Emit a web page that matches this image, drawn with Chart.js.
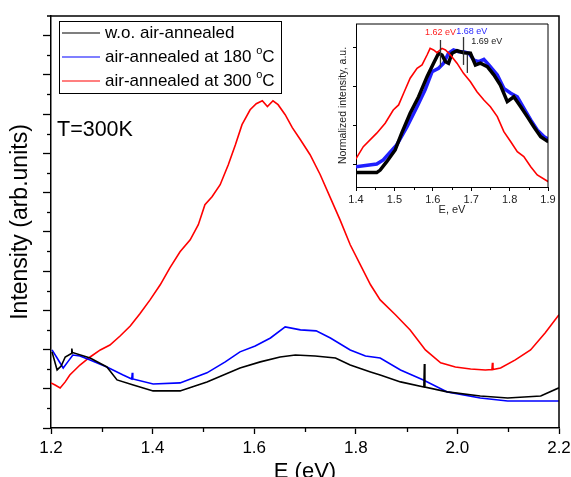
<!DOCTYPE html>
<html>
<head>
<meta charset="utf-8">
<script src="https://cdn.jsdelivr.net/npm/chart.js@4.4.1/dist/chart.umd.min.js"></script>
<style>
  html, body { margin: 0; padding: 0; background: #fff; }
  #wrap { position: relative; width: 571px; height: 477px; overflow: hidden; }
  #main { position: absolute; left: 0; top: 0; }
  #inset { position: absolute; left: 330px; top: 18px; }
</style>
</head>
<body>
<div id="wrap">
  <canvas id="main" width="571" height="477"></canvas>
  <canvas id="inset" width="235" height="200"></canvas>
</div>
<script>
// --- main panel: PL spectra ---
const blackE = [1.202, 1.212, 1.220, 1.228, 1.240, 1.241, 1.242, 1.277, 1.310, 1.330, 1.362, 1.401, 1.454, 1.507, 1.572, 1.612, 1.651, 1.681, 1.720, 1.760, 1.789, 1.829, 1.848, 1.888, 1.934, 1.935, 1.936, 1.980, 2.045, 2.099, 2.164, 2.200];
const blackI = [3.88, 2.96, 3.16, 3.62, 3.80, 4.05, 3.85, 3.57, 3.11, 2.45, 2.19, 1.89, 1.89, 2.35, 3.06, 3.37, 3.62, 3.72, 3.67, 3.57, 3.21, 2.86, 2.70, 2.35, 2.09, 3.26, 2.09, 1.84, 1.63, 1.53, 1.63, 2.05];

const blueE = [1.202, 1.212, 1.224, 1.233, 1.243, 1.257, 1.277, 1.310, 1.342, 1.359, 1.360, 1.361, 1.401, 1.454, 1.507, 1.543, 1.572, 1.602, 1.632, 1.661, 1.691, 1.722, 1.750, 1.789, 1.819, 1.848, 1.888, 1.933, 1.980, 2.045, 2.099, 2.200];
const blueI = [3.98, 3.57, 3.06, 3.37, 3.72, 3.67, 3.47, 3.11, 2.70, 2.50, 2.81, 2.50, 2.24, 2.30, 2.81, 3.37, 3.88, 4.18, 4.59, 5.15, 5.00, 4.95, 4.59, 3.98, 3.67, 3.57, 2.96, 2.45, 1.84, 1.53, 1.38, 1.38];

const redE = [1.200, 1.208, 1.218, 1.228, 1.237, 1.257, 1.277, 1.297, 1.316, 1.336, 1.356, 1.375, 1.395, 1.415, 1.434, 1.454, 1.474, 1.490, 1.503, 1.517, 1.533, 1.549, 1.563, 1.576, 1.592, 1.604, 1.616, 1.626, 1.637, 1.647, 1.661, 1.675, 1.691, 1.710, 1.730, 1.750, 1.769, 1.789, 1.809, 1.829, 1.848, 1.878, 1.907, 1.937, 1.967, 1.996, 2.026, 2.055, 2.068, 2.069, 2.070, 2.085, 2.114, 2.144, 2.173, 2.200];
const redI = [2.30, 2.19, 2.04, 2.35, 2.70, 3.21, 3.62, 3.98, 4.23, 4.69, 5.20, 5.82, 6.53, 7.30, 8.16, 8.98, 9.59, 10.36, 11.38, 11.79, 12.40, 13.42, 14.44, 15.46, 16.22, 16.53, 16.68, 16.38, 16.68, 16.48, 15.97, 15.31, 14.69, 13.93, 12.91, 11.73, 10.61, 9.34, 8.32, 7.30, 6.53, 5.77, 5.00, 3.98, 3.32, 3.11, 3.01, 2.96, 2.98, 3.32, 2.98, 3.06, 3.47, 3.98, 4.85, 5.77];

const seriesLabels = ['w.o. air-annealed', 'air-annealed at 180 °C', 'air-annealed at 300 °C'];

// ticks of the main panel (y has no numbers)
const xMajor = [1.2, 1.4, 1.6, 1.8, 2.0, 2.2];
const xMinor = [1.3, 1.5, 1.7, 1.9, 2.1];
const yMajor = [0, 2, 4, 6, 8, 10, 12, 14, 16, 18, 20];
const yMinor = [1, 3, 5, 7, 9, 11, 13, 15, 17, 19];

// --- inset: normalized spectra ---
const insBlackE = [1.399, 1.454, 1.463, 1.480, 1.502, 1.519, 1.541, 1.563, 1.585, 1.602, 1.615, 1.624, 1.633, 1.641, 1.650, 1.663, 1.680, 1.698, 1.711, 1.724, 1.742, 1.759, 1.776, 1.794, 1.811, 1.829, 1.846, 1.863, 1.881, 1.901];
const insBlackI = [0.361, 0.361, 0.374, 0.417, 0.477, 0.563, 0.665, 0.750, 0.853, 0.922, 0.973, 0.964, 0.930, 0.922, 0.973, 0.986, 0.976, 0.973, 0.913, 0.922, 0.904, 0.862, 0.810, 0.725, 0.750, 0.699, 0.648, 0.596, 0.545, 0.519];

const insBlueE = [1.399, 1.454, 1.471, 1.506, 1.533, 1.559, 1.580, 1.598, 1.615, 1.628, 1.641, 1.654, 1.667, 1.680, 1.694, 1.707, 1.720, 1.733, 1.746, 1.768, 1.785, 1.803, 1.820, 1.837, 1.855, 1.872, 1.890, 1.901];
const insBlueI = [0.391, 0.405, 0.426, 0.503, 0.596, 0.699, 0.785, 0.878, 0.896, 0.922, 0.973, 0.990, 0.981, 0.981, 0.973, 0.938, 0.930, 0.942, 0.913, 0.862, 0.793, 0.768, 0.750, 0.691, 0.631, 0.579, 0.545, 0.532];

const insRedE = [1.399, 1.419, 1.454, 1.476, 1.497, 1.511, 1.524, 1.541, 1.559, 1.572, 1.585, 1.593, 1.602, 1.611, 1.624, 1.633, 1.646, 1.663, 1.680, 1.698, 1.715, 1.733, 1.750, 1.768, 1.785, 1.803, 1.820, 1.837, 1.855, 1.872, 1.901];
const insRedI = [0.429, 0.494, 0.563, 0.614, 0.682, 0.708, 0.768, 0.845, 0.896, 0.913, 0.964, 0.998, 0.990, 0.976, 0.998, 0.990, 0.964, 0.922, 0.870, 0.827, 0.776, 0.733, 0.699, 0.648, 0.571, 0.519, 0.468, 0.443, 0.391, 0.349, 0.314];

const insXMajor = [1.4, 1.5, 1.6, 1.7, 1.8, 1.9];
const insXMinor = [1.45, 1.55, 1.65, 1.75, 1.85];
const insYMajor = [0.4, 0.6, 0.8, 1.0];

// peak markers in the inset
const peakE = [1.62, 1.68, 1.69];
const peakLow = [0.903, 0.913, 0.872];
const peakHigh = [1.041, 1.056, 0.964];
const peakText = ['1.62 eV', '1.68 eV', '1.69 eV'];
const peakTextE = [1.620, 1.661, 1.700];
const peakTextI = [1.077, 1.087, 1.031];

const FONT = "'Liberation Sans', Arial, sans-serif";

const toPoints = (xs, ys) => xs.map((x, i) => ({ x: x, y: ys[i] }));

// Рисуем надпись, где "°" становится маленьким верхним "o"
const drawDegreeText = (ctx, text, x, y, size) => {
  const parts = text.split('°');
  ctx.font = size + 'px ' + FONT;
  ctx.textBaseline = 'middle';
  ctx.textAlign = 'left';
  ctx.fillText(parts[0], x, y);
  if (parts.length < 2) return;
  let cx = x + ctx.measureText(parts[0]).width;
  ctx.font = Math.round(size * 0.62) + 'px ' + FONT;
  ctx.fillText('o', cx, y - size * 0.33);
  cx += ctx.measureText('o').width;
  ctx.font = size + 'px ' + FONT;
  ctx.fillText(parts[1], cx, y);
};

// short ticks between labelled ones
const minorTicks = {
  id: 'minorTicks',
  afterDraw(chart, args, o) {
    const ctx = chart.ctx;
    const area = chart.chartArea;
    ctx.save();
    ctx.strokeStyle = '#000';
    ctx.lineWidth = o.width;
    (o.x || []).forEach(v => {
      const px = Math.round(chart.scales.x.getPixelForValue(v)) + 0.5;
      ctx.beginPath();
      ctx.moveTo(px, area.bottom);
      ctx.lineTo(px, area.bottom + o.length);
      ctx.stroke();
    });
    (o.y || []).forEach(v => {
      const py = Math.round(chart.scales.y.getPixelForValue(v)) + 0.5;
      ctx.beginPath();
      ctx.moveTo(area.left, py);
      ctx.lineTo(area.left - o.length, py);
      ctx.stroke();
    });
    ctx.restore();
  }
};

// top and right edges of the plot box
const frame = {
  id: 'frame',
  afterDraw(chart, args, o) {
    const ctx = chart.ctx;
    const a = chart.chartArea;
    ctx.save();
    ctx.strokeStyle = '#000';
    ctx.lineWidth = o.width;
    ctx.beginPath();
    ctx.moveTo(a.left - (o.extend || 0), a.top);
    ctx.lineTo(a.right, a.top);
    ctx.lineTo(a.right, a.bottom);
    ctx.stroke();
    ctx.restore();
  }
};

const boxLegend = {
  id: 'boxLegend',
  afterDraw(chart, args, o) {
    if (!o.show) return;
    const ctx = chart.ctx;
    ctx.save();
    ctx.strokeStyle = '#000';
    ctx.lineWidth = 1;
    ctx.strokeRect(o.left + 0.5, o.top + 0.5, o.width, o.height);
    chart.data.datasets.forEach((ds, i) => {
      const y = o.top + o.firstRow + i * o.rowGap;
      ctx.strokeStyle = ds.borderColor;
      ctx.lineWidth = 1.2;
      ctx.beginPath();
      ctx.moveTo(o.left + 3, y);
      ctx.lineTo(o.left + 41, y);
      ctx.stroke();
      ctx.fillStyle = '#000';
      drawDegreeText(ctx, ds.label, o.left + 46, y, o.fontSize);
    });
    ctx.restore();
  }
};

const freeText = {
  id: 'freeText',
  afterDraw(chart, args, o) {
    const ctx = chart.ctx;
    ctx.save();
    (o.items || []).forEach(t => {
      ctx.fillStyle = t.color || '#000';
      ctx.font = t.size + 'px ' + FONT;
      ctx.textAlign = t.align || 'left';
      ctx.textBaseline = 'middle';
      ctx.fillText(t.text, t.x, t.y);
    });
    ctx.restore();
  }
};

// inset peak markers, placed through the inset scales
const peakMarks = {
  id: 'peakMarks',
  afterDatasetsDraw(chart, args, o) {
    if (!o.show) return;
    const ctx = chart.ctx;
    const sx = chart.scales.x, sy = chart.scales.y;
    ctx.save();
    peakE.forEach((e, i) => {
      const px = sx.getPixelForValue(e);
      ctx.strokeStyle = '#333';
      ctx.lineWidth = 1.3;
      ctx.beginPath();
      ctx.moveTo(px, sy.getPixelForValue(peakLow[i]));
      ctx.lineTo(px, sy.getPixelForValue(peakHigh[i]));
      ctx.stroke();
    });
    ctx.font = '9px ' + FONT;
    ctx.textBaseline = 'middle';
    const cols = ['#ff2020', '#2a2aff', '#222'];
    const aligns = ['center', 'left', 'left'];
    peakText.forEach((t, i) => {
      ctx.fillStyle = cols[i];
      ctx.textAlign = aligns[i];
      ctx.fillText(t, sx.getPixelForValue(peakTextE[i]), sy.getPixelForValue(peakTextI[i]));
    });
    ctx.restore();
  }
};

Chart.register(minorTicks, frame, boxLegend, freeText, peakMarks);

const setTicks = values => scale => { scale.ticks = values.map(v => ({ value: v })); };

const lineSet = (label, xs, ys, color, width) => ({
  label: label,
  data: toPoints(xs, ys),
  borderColor: color,
  backgroundColor: color,
  borderWidth: width,
  pointRadius: 0,
  tension: 0,
  fill: false
});

// ---------- main chart ----------
new Chart(document.getElementById('main').getContext('2d'), {
  type: 'line',
  data: {
    datasets: [
      lineSet(seriesLabels[0], blackE, blackI, '#000000', 1.6),
      lineSet(seriesLabels[1], blueE, blueI, '#0000ff', 1.6),
      lineSet(seriesLabels[2], redE, redI, '#ff0000', 1.6)
    ]
  },
  options: {
    responsive: false,
    animation: false,
    events: [],
    layout: { padding: { left: 0, right: 12, top: 16, bottom: 0 } },
    plugins: {
      legend: { display: false },
      tooltip: { enabled: false },
      minorTicks: { x: xMinor, y: yMinor, length: 4, width: 1.3 },
      frame: { width: 1.5, extend: 4 },
      boxLegend: { show: true, left: 59, top: 21, width: 222, height: 72, firstRow: 12, rowGap: 24, fontSize: 17 },
      freeText: { items: [{ text: 'T=300K', x: 57, y: 130, size: 21.5 }] },
      peakMarks: { show: false }
    },
    scales: {
      x: {
        type: 'linear',
        min: 1.2,
        max: 2.2,
        afterBuildTicks: setTicks(xMajor),
        afterFit: s => { s.height = 49; s.paddingLeft = 0; s.paddingRight = 0; },
        ticks: {
          font: { family: FONT, size: 17 },
          color: '#000',
          padding: 4,
          maxRotation: 0,
          autoSkip: false,
          callback: v => v.toFixed(1)
        },
        grid: { drawOnChartArea: false, drawTicks: true, tickLength: 6, tickColor: '#000', tickWidth: 1.3 },
        border: { display: true, color: '#000', width: 1.5 },
        title: { display: true, text: 'E (eV)', color: '#000', font: { family: FONT, size: 22 }, padding: { top: 0, bottom: -8 } }
      },
      y: {
        type: 'linear',
        min: 0,
        max: 21,
        afterBuildTicks: setTicks(yMajor),
        afterFit: s => { s.width = 51; },
        ticks: { display: false },
        grid: { drawOnChartArea: false, drawTicks: true, tickLength: 8, tickColor: '#000', tickWidth: 1.3 },
        border: { display: true, color: '#000', width: 1.5 },
        title: { display: true, text: 'Intensity (arb.units)', color: '#000', font: { family: FONT, size: 23 }, padding: { top: 7, bottom: 0 } }
      }
    }
  }
});

// ---------- inset ----------
new Chart(document.getElementById('inset').getContext('2d'), {
  type: 'line',
  data: {
    datasets: [
      lineSet('1.62 eV', insRedE, insRedI, '#ff0000', 1.6),
      lineSet('1.69 eV', insBlackE, insBlackI, '#000000', 3.5),
      lineSet('1.68 eV', insBlueE, insBlueI, '#2020ff', 3.5)
    ]
  },
  options: {
    responsive: false,
    animation: false,
    events: [],
    layout: { padding: { left: 0, right: 17, top: 6, bottom: 0 } },
    plugins: {
      legend: { display: false },
      tooltip: { enabled: false },
      minorTicks: { x: insXMinor, y: [], length: 3, width: 1 },
      frame: { width: 1, extend: 0 },
      boxLegend: { show: false },
      freeText: { items: [] },
      peakMarks: { show: true }
    },
    scales: {
      x: {
        type: 'linear',
        min: 1.4,
        max: 1.9,
        afterBuildTicks: setTicks(insXMajor),
        afterFit: s => { s.height = 31; s.paddingLeft = 0; s.paddingRight = 0; },
        ticks: {
          font: { family: FONT, size: 11 },
          color: '#222',
          padding: 2,
          maxRotation: 0,
          autoSkip: false,
          callback: v => v.toFixed(1)
        },
        grid: { drawOnChartArea: false, drawTicks: true, tickLength: 4, tickColor: '#000', tickWidth: 1 },
        border: { display: true, color: '#000', width: 1 },
        title: { display: true, text: 'E, eV', color: '#222', font: { family: FONT, size: 11 }, padding: { top: 0, bottom: 1 } }
      },
      y: {
        type: 'linear',
        min: 0.287,
        max: 1.123,
        afterBuildTicks: setTicks(insYMajor),
        afterFit: s => { s.width = 26; },
        ticks: { display: false },
        grid: { drawOnChartArea: false, drawTicks: true, tickLength: 3, tickColor: '#000', tickWidth: 1 },
        border: { display: true, color: '#000', width: 1 },
        title: { display: true, text: 'Normalized intensity, a.u.', color: '#222', font: { family: FONT, size: 10.5 }, padding: { top: 7, bottom: 0 } }
      }
    }
  }
});
</script>
</body>
</html>
